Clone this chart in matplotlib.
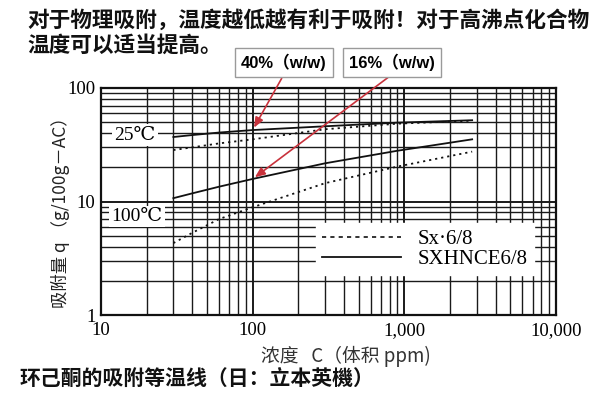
import matplotlib
matplotlib.use("Agg")
import matplotlib.pyplot as plt
from matplotlib.ticker import FixedLocator, FuncFormatter, NullFormatter, LogLocator
from matplotlib.lines import Line2D
import numpy as np

# ---------------- data ----------------
conc = [30, 40, 60, 100, 300, 900, 2800]
q25_sxhnce = [37, 38.5, 40.5, 42.6, 46, 49.5, 52]
q25_sx = [28.4, 30, 32.5, 35.3, 43.3, 48.5, 51.5]
q100_sxhnce = [10.7, 11.8, 13.5, 15.8, 21.7, 28, 35.3]
q100_sx = [4.3, 5.3, 7.0, 8.9, 14.5, 20.3, 27.5]

xticks = [10, 100, 1000, 10000]
yticks = [1, 10, 100]
legend_labels = ["Sx·6/8", "SXHNCE6/8"]
temp_labels = ["25℃", "100℃"]
callouts = ["40%（w/w)", "16%（w/w)"]
title_lines = ["对于物理吸附，温度越低越有利于吸附！对于高沸点化合物", "温度可以适当提高。"]
caption = "环己酮的吸附等温线（日：立本英機）"
ylabel = "吸附量 q （g/100g－AC）"
xlabel = "浓度   C（体积 ppm)"

CJK = ["Noto Sans CJK SC", "DejaVu Sans"]
SERIF = ["Liberation Serif", "DejaVu Serif", "Noto Sans CJK SC"]
RED = "#c8323c"

W, H = 616, 395
fig = plt.figure(figsize=(W / 100, H / 100), dpi=100)
fig.patch.set_facecolor("white")

def fx(px):
    return px / W

def fy(py):
    return 1 - py / H

ax = fig.add_axes([fx(101), fy(315), fx(556) - fx(101), fy(88) - fy(315)])
ax.set_xscale("log")
ax.set_yscale("log")
ax.set_xlim(10, 10000)
ax.set_ylim(1, 100)

# grid
ax.xaxis.set_major_locator(FixedLocator(xticks))
ax.yaxis.set_major_locator(FixedLocator(yticks))
ax.xaxis.set_minor_locator(LogLocator(base=10, subs=np.arange(2, 10)))
ax.yaxis.set_minor_locator(LogLocator(base=10, subs=np.arange(2, 10)))
ax.xaxis.set_minor_formatter(NullFormatter())
ax.yaxis.set_minor_formatter(NullFormatter())
ax.xaxis.set_major_formatter(FuncFormatter(lambda v, p: f"{v:,.0f}"))
ax.yaxis.set_major_formatter(FuncFormatter(lambda v, p: f"{v:,.0f}"))
ax.grid(True, which="major", color="#1a1a1a", lw=1.4)
ax.grid(True, which="minor", color="#1a1a1a", lw=1.0)
ax.tick_params(which="both", length=0, labelsize=13.5)
ax.tick_params(axis="x", pad=5)
ax.tick_params(axis="y", pad=4)
for lab in ax.get_xticklabels() + ax.get_yticklabels():
    lab.set_family(SERIF)
for s in ax.spines.values():
    s.set_linewidth(1.6)
    s.set_color("#111111")

# curves
ax.plot(conc, q25_sxhnce, color="#111111", lw=1.3, zorder=5)
ax.plot(conc, q25_sx, color="#111111", lw=1.3, ls=(0, (1.2, 2.2)), zorder=5)
ax.plot(conc, q100_sxhnce, color="#111111", lw=1.3, zorder=5)
ax.plot(conc, q100_sx, color="#111111", lw=1.3, ls=(0, (1.2, 2.2)), zorder=5)

# temperature labels
ax.text(16.8, 38.5, temp_labels[0], family=SERIF, fontsize=14, ha="center", va="center",
        zorder=6, bbox=dict(boxstyle="square,pad=0.12", fc="white", ec="none"))
ax.text(17.2, 7.4, temp_labels[1], family=SERIF, fontsize=14, ha="center", va="center",
        zorder=6, bbox=dict(boxstyle="square,pad=0.12", fc="white", ec="none"))

# legend
handles = [Line2D([], [], color="#111111", lw=1.2, ls=(0, (2.5, 2.5))),
           Line2D([], [], color="#111111", lw=1.3)]
leg = ax.legend(handles, legend_labels, loc="lower right", bbox_to_anchor=(0.975, 0.13),
                frameon=True, fancybox=False, framealpha=1, edgecolor="white",
                prop={"family": SERIF, "size": 15}, handlelength=3.8, handletextpad=0.8,
                labelspacing=0.0, borderpad=0.3)
leg.set_zorder(7)

# axis labels
fig.text(fx(60), fy(208), ylabel, rotation=90, ha="center", va="center",
         family=CJK, fontsize=12.5, color="#222222")
fig.text(fx(346), fy(356), xlabel, ha="center", va="center",
         family=CJK, fontsize=13.5, color="#333333")

# title lines and caption
fig.text(fx(27), fy(20), title_lines[0], ha="left", va="center", family=CJK,
         fontsize=15.6, fontweight="bold", color="#111111")
fig.text(fx(27), fy(45), title_lines[1], ha="left", va="center", family=CJK,
         fontsize=15.6, fontweight="bold", color="#111111")
fig.text(fx(20), fy(379), caption, ha="left", va="center", family=CJK,
         fontsize=15, fontweight="bold", color="#111111")

# callouts
box = dict(boxstyle="square,pad=0.35", fc="white", ec="#9a9a9a", lw=1.0)
fig.text(fx(284), fy(62.5), callouts[0], ha="center", va="center",
         family=["Liberation Sans", "Noto Sans CJK SC"], fontsize=12, fontweight="bold", bbox=box)
fig.text(fx(392), fy(62.5), callouts[1], ha="center", va="center",
         family=["Liberation Sans", "Noto Sans CJK SC"], fontsize=12, fontweight="bold", bbox=box)

i100 = conc.index(100)
ax.annotate("", xy=(100, q25_sxhnce[i100]), xycoords="data",
            xytext=(283, H - 76), textcoords="figure pixels",
            arrowprops=dict(arrowstyle="-|>,head_length=0.6,head_width=0.25", color=RED, lw=1.2),
            zorder=8, annotation_clip=False)
ax.annotate("", xy=(100, q100_sxhnce[i100]), xycoords="data",
            xytext=(390, H - 76), textcoords="figure pixels",
            arrowprops=dict(arrowstyle="-|>,head_length=0.6,head_width=0.25", color=RED, lw=1.2),
            zorder=8, annotation_clip=False)

fig.savefig("out.png", dpi=100, facecolor="white")
